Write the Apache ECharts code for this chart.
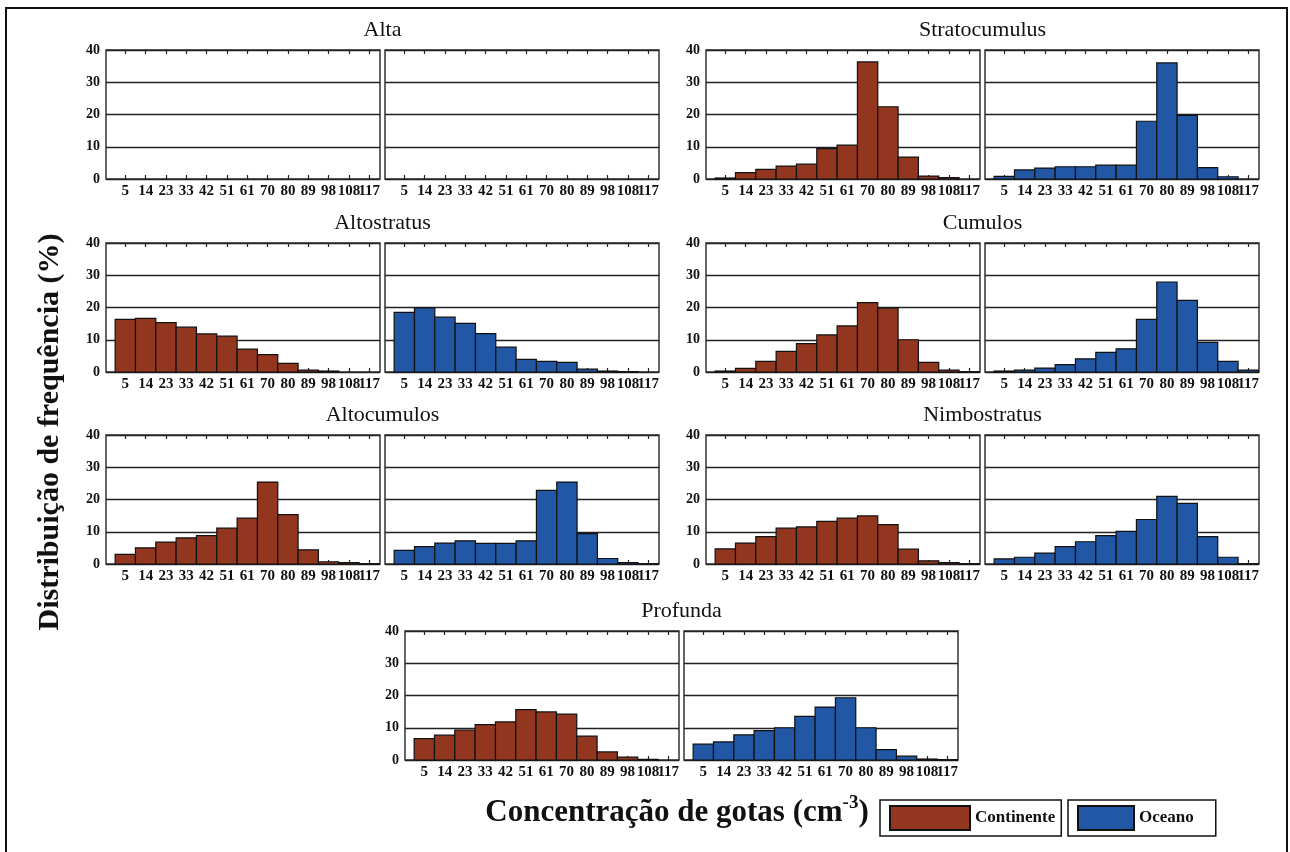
<!DOCTYPE html>
<html>
<head>
<meta charset="utf-8">
<script src="https://cdn.jsdelivr.net/npm/echarts@6/dist/echarts.min.js"></script>
<style>
  html, body { margin: 0; padding: 0; background: #fff; }
  #main { width: 1290px; height: 852px; }
</style>
</head>
<body>
<div id="main"></div>
<script>
// classes de concentracao (rotulos do eixo x)
const bins = ['5', '14', '23', '33', '42', '51', '61', '70', '80', '89', '98', '108', '117'];
const yTicks = [0, 10, 20, 30, 40];

// frequencias (%)
const altaCont = [];
const altaOce = [];
const stratoCont = [0.3, 2.0, 3.0, 4.0, 4.6, 9.4, 10.5, 36.3, 22.4, 6.8, 0.9, 0.4, 0];
const stratoOce = [0.8, 2.8, 3.4, 3.8, 3.8, 4.3, 4.3, 17.9, 36.0, 19.7, 3.5, 0.7, 0];
const altostCont = [16.3, 16.6, 15.3, 13.9, 11.8, 11.1, 7.1, 5.4, 2.7, 0.6, 0.3, 0, 0];
const altostOce = [18.5, 19.9, 17.0, 15.1, 11.9, 7.7, 3.9, 3.3, 3.0, 0.9, 0.3, 0.1, 0];
const cumCont = [0.3, 1.1, 3.3, 6.4, 8.8, 11.5, 14.3, 21.5, 19.8, 10.0, 3.0, 0.6, 0.1];
const cumOce = [0.3, 0.6, 1.2, 2.3, 4.1, 6.1, 7.2, 16.3, 27.9, 22.2, 9.2, 3.3, 0.6];
const altocCont = [3.0, 5.0, 6.8, 8.1, 8.8, 11.1, 14.2, 25.4, 15.3, 4.4, 0.7, 0.4, 0.1];
const altocOce = [4.2, 5.4, 6.5, 7.2, 6.4, 6.4, 7.2, 22.8, 25.4, 9.4, 1.7, 0.4, 0.1];
const nimboCont = [4.7, 6.5, 8.5, 11.1, 11.5, 13.2, 14.2, 14.9, 12.2, 4.6, 1.0, 0.4, 0.1];
const nimboOce = [1.6, 2.1, 3.4, 5.4, 6.9, 8.8, 10.1, 13.8, 21.0, 18.8, 8.5, 2.1, 0.1];
const profCont = [6.6, 7.7, 9.3, 11.0, 11.8, 15.6, 14.9, 14.2, 7.4, 2.5, 0.9, 0.2, 0];
const profOce = [4.9, 5.6, 7.8, 9.1, 10.0, 13.5, 16.4, 19.3, 10.0, 3.2, 1.2, 0.3, 0.1];

const CONT = '#93361f';
const OCE = '#2157a5';
const FONT = '"Liberation Serif", "Times New Roman", serif';

// paineis: titulo, posicao do par, dados
const panels = [
  { title: 'Alta', left: 106, top: 50, cont: altaCont, oce: altaOce },
  { title: 'Stratocumulus', left: 706, top: 50, cont: stratoCont, oce: stratoOce },
  { title: 'Altostratus', left: 106, top: 243, cont: altostCont, oce: altostOce },
  { title: 'Cumulos', left: 706, top: 243, cont: cumCont, oce: cumOce },
  { title: 'Altocumulos', left: 106, top: 435, cont: altocCont, oce: altocOce },
  { title: 'Nimbostratus', left: 706, top: 435, cont: nimboCont, oce: nimboOce },
  { title: 'Profunda', left: 405, top: 631, cont: profCont, oce: profOce }
];
const PW = 274, PH = 129, GAP = 5;
const XMIN = -0.95, XMAX = 12.53;

function barRenderer(color) {
  return function (params, api) {
    const i = api.value(0), v = api.value(1);
    if (!v) return;
    const p0 = api.coord([i - 0.5, v]);
    const p1 = api.coord([i + 0.5, 0]);
    return {
      type: 'rect',
      shape: { x: p0[0], y: p0[1], width: p1[0] - p0[0], height: p1[1] - p0[1] },
      style: { fill: color, stroke: '#111', lineWidth: 1.2 }
    };
  };
}

const grid = [], xAxis = [], yAxis = [], series = [], graphic = [];
const tickIdx = bins.map((b, i) => i);
const lastIdx = tickIdx.length - 1;
const labelStyle = { fontFamily: FONT, fontWeight: 'bold', fontSize: 15, color: '#111' };
const tickStyle = { show: true, inside: true, length: 4, customValues: tickIdx, lineStyle: { color: '#222', width: 1.2 } };

panels.forEach(p => {
  [p.cont, p.oce].forEach((vals, k) => {
    const g = grid.length;
    grid.push({
      left: p.left + k * (PW + GAP), top: p.top, width: PW, height: PH,
      show: true, borderColor: '#333', borderWidth: 1.5, backgroundColor: '#fff'
    });
    // eixo inferior: ticks + rotulos 5..108
    xAxis.push(Object.assign({
      type: 'value', gridIndex: g, position: 'bottom', min: XMIN, max: XMAX,
      axisLine: { show: false }, axisTick: tickStyle, splitLine: { show: false },
      axisLabel: Object.assign({
        show: true, customValues: tickIdx.slice(0, lastIdx), margin: 5,
        showMinLabel: true, showMaxLabel: true,
        formatter: v => bins[Math.round(v)]
      }, labelStyle)
    }));
    // eixo superior: so ticks
    xAxis.push({
      type: 'value', gridIndex: g, position: 'top', min: XMIN, max: XMAX,
      axisLine: { show: false }, axisTick: tickStyle, splitLine: { show: false },
      axisLabel: { show: false }
    });
    // rotulo 117 (sobrepoe o 108 como no original)
    xAxis.push({
      type: 'value', gridIndex: g, position: 'bottom', min: XMIN, max: XMAX,
      axisLine: { show: false }, axisTick: { show: false }, splitLine: { show: false },
      axisLabel: Object.assign({
        show: true, customValues: [lastIdx], margin: 5,
        showMinLabel: true, showMaxLabel: true,
        formatter: v => bins[Math.round(v)]
      }, labelStyle)
    });
    yAxis.push({
      type: 'value', gridIndex: g, min: yTicks[0], max: yTicks[yTicks.length - 1], interval: 10,
      axisLine: { show: false }, axisTick: { show: false },
      axisLabel: {
        show: k === 0, margin: 6,
        fontFamily: FONT, fontWeight: 'bold', fontSize: 14, color: '#111'
      },
      splitLine: { show: true, lineStyle: { color: '#222', width: 1.3 } }
    });
    series.push({
      type: 'custom',
      name: k === 0 ? 'Continente' : 'Oceano',
      xAxisIndex: 3 * g, yAxisIndex: g,
      renderItem: barRenderer(k === 0 ? CONT : OCE),
      itemStyle: { color: k === 0 ? CONT : OCE, borderColor: '#111', borderWidth: 1.2 },
      encode: { x: 0, y: 1 },
      data: vals.map((v, i) => [i, v]),
      silent: true
    });
  });
  graphic.push({
    type: 'text',
    x: p.left + PW + GAP / 2, y: p.top - 20,
    style: { text: p.title, font: '22px ' + FONT, fill: '#111', align: 'center', verticalAlign: 'middle' }
  });
});

// titulos dos eixos e moldura
graphic.push({
  type: 'text', x: 50, y: 432, rotation: Math.PI / 2,
  style: { text: 'Distribuição de frequência (%)', font: 'bold 30px ' + FONT, fill: '#111', align: 'center', verticalAlign: 'middle' }
});
graphic.push({
  type: 'text', x: 677, y: 813,
  style: {
    text: '{b|Concentração de gotas (cm}{s|-3}{b|)}',
    align: 'center', verticalAlign: 'middle',
    rich: {
      b: { fontFamily: FONT, fontWeight: 'bold', fontSize: 31, fill: '#111', lineHeight: 38 },
      s: { fontFamily: FONT, fontWeight: 'bold', fontSize: 19, fill: '#111', verticalAlign: 'top', lineHeight: 38 }
    }
  }
});
graphic.push({
  type: 'rect', shape: { x: 6, y: 8, width: 1281, height: 900 },
  style: { fill: 'none', stroke: '#111', lineWidth: 2 }, z: -1
});

const legendBase = {
  orient: 'horizontal', top: 800, itemGap: 0,
  itemHeight: 24, icon: 'rect', selectedMode: false,
  borderColor: '#111', borderWidth: 1.5, backgroundColor: '#fff',
  textStyle: { fontFamily: FONT, fontWeight: 'bold', fontSize: 17, color: '#111' }
};

const chart = echarts.init(document.getElementById('main'), null, { renderer: 'canvas' });
chart.setOption({
  backgroundColor: '#fff',
  animation: false,
  grid: grid,
  xAxis: xAxis,
  yAxis: yAxis,
  series: series,
  graphic: graphic,
  legend: [
    Object.assign({}, legendBase, { data: ['Continente'], left: 880, itemWidth: 80, padding: [5, 6, 5, 9] }),
    Object.assign({}, legendBase, { data: ['Oceano'], left: 1068, itemWidth: 56, padding: [5, 22, 5, 9] })
  ]
});
</script>
</body>
</html>
